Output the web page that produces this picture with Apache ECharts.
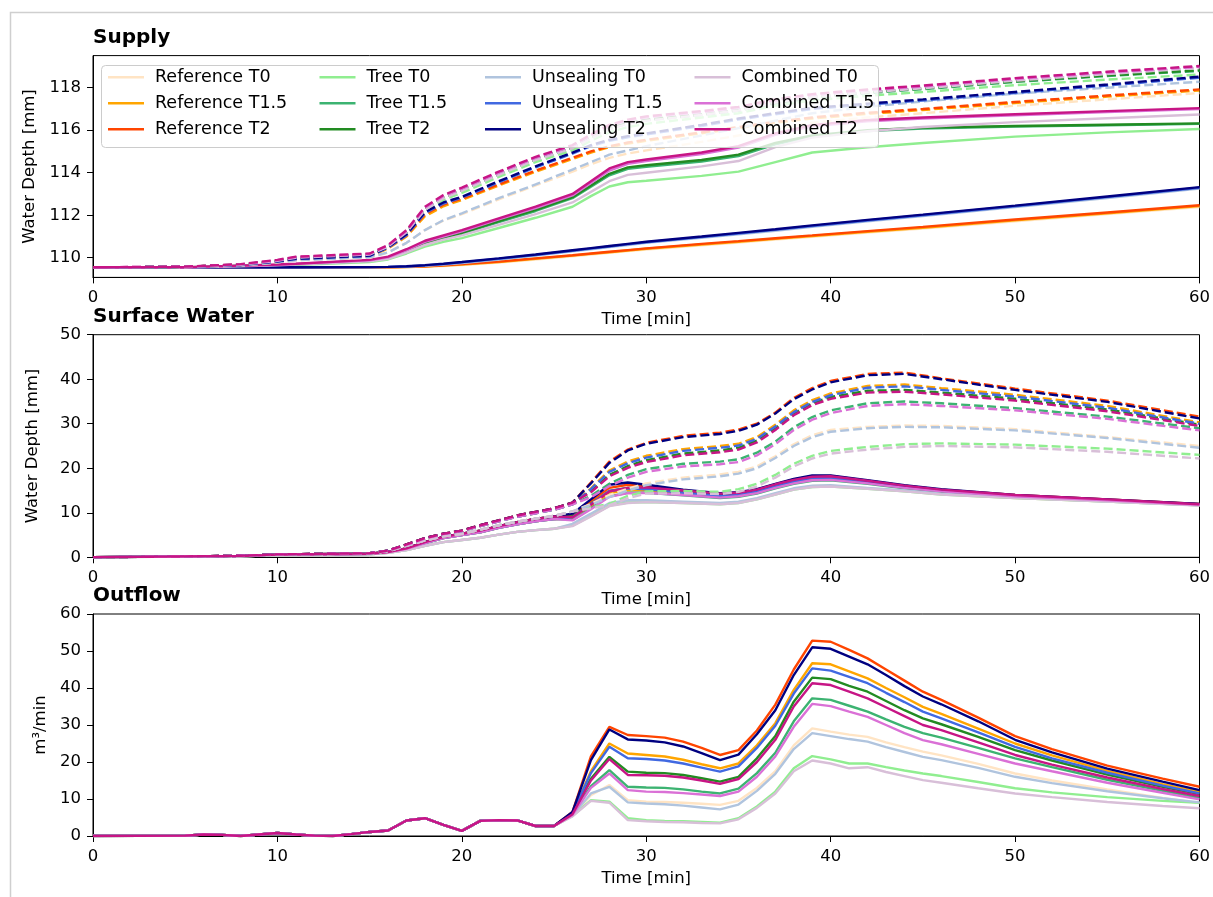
<!DOCTYPE html>
<html>
<head>
<meta charset="utf-8">
<script src="https://cdn.jsdelivr.net/npm/echarts@6/dist/echarts.min.js"></script>
<style>
html, body { margin: 0; padding: 0; background: #fff; }
#chart { width: 1213px; height: 897px; }
</style>
</head>
<body>
<div id="chart"></div>
<script>
// Scenario names and colours (same order in every panel)
const scenarioNames = ['Reference T0', 'Reference T1.5', 'Reference T2',
  'Tree T0', 'Tree T1.5', 'Tree T2',
  'Unsealing T0', 'Unsealing T1.5', 'Unsealing T2',
  'Combined T0', 'Combined T1.5', 'Combined T2'];
const scenarioColors = ['#ffe4c4', '#ffa500', '#ff4500',
  '#90ee90', '#3cb371', '#228b22',
  '#b0c4de', '#4169e1', '#000080',
  '#d8bfd8', '#da70d6', '#c71585'];

const panelTitles = ['Supply', 'Surface Water', 'Outflow'];
const yAxisNames = ['Water Depth [mm]', 'Water Depth [mm]', 'm³/min'];
const supplyTicks = [110, 112, 114, 116, 118];

// ---------- Supply [mm] ----------
const supplyTime = [0,5,6,8,10,11,15,16,17,18,19,20,22,24,26,27,28,29,30,33,35,37,39,42,45,50,55,60];

const supplyRefT0   = [109.55,109.55,109.55,109.55,109.55,109.55,109.55,109.55,109.56,109.58,109.61,109.66,109.77,109.92,110.07,110.15,110.23,110.31,110.39,110.59,110.72,110.85,110.98,111.18,111.37,111.72,112.05,112.39];
const supplyRefT15  = [109.55,109.55,109.55,109.55,109.55,109.55,109.55,109.55,109.56,109.59,109.63,109.68,109.8,109.95,110.1,110.18,110.26,110.34,110.42,110.62,110.75,110.89,111.02,111.22,111.41,111.76,112.09,112.43];
const supplyRefT2   = [109.55,109.55,109.55,109.55,109.55,109.55,109.55,109.55,109.57,109.6,109.65,109.7,109.82,109.97,110.12,110.2,110.28,110.36,110.44,110.65,110.78,110.92,111.05,111.25,111.45,111.8,112.13,112.47];
const supplyTreeT0  = [109.55,109.55,109.56,109.59,109.63,109.66,109.8,109.92,110.2,110.52,110.75,110.92,111.4,111.88,112.4,112.9,113.35,113.55,113.62,113.85,114.05,114.5,114.95,115.2,115.4,115.7,115.9,116.06];
const supplyTreeT15 = [109.55,109.55,109.57,109.61,109.65,109.69,109.85,109.98,110.3,110.67,110.92,111.13,111.68,112.2,112.8,113.34,113.88,114.18,114.28,114.52,114.78,115.34,115.7,115.96,116.08,116.17,116.23,116.3];
const supplyTreeT2  = [109.55,109.55,109.57,109.62,109.66,109.7,109.86,110.0,110.32,110.7,110.95,111.17,111.72,112.25,112.85,113.4,113.95,114.25,114.35,114.6,114.85,115.4,115.75,116.0,116.12,116.2,116.26,116.32];
const supplyUnsT0   = [109.55,109.55,109.55,109.55,109.55,109.55,109.55,109.56,109.58,109.62,109.68,109.75,109.92,110.1,110.3,110.4,110.5,110.6,110.7,110.94,111.1,111.27,111.45,111.71,111.96,112.38,112.81,113.25];
const supplyUnsT15  = [109.55,109.55,109.55,109.55,109.55,109.55,109.56,109.57,109.59,109.64,109.7,109.78,109.95,110.13,110.33,110.43,110.53,110.63,110.73,110.97,111.14,111.31,111.49,111.75,112.0,112.42,112.85,113.29];
const supplyUnsT2   = [109.55,109.55,109.55,109.55,109.55,109.55,109.56,109.57,109.6,109.65,109.72,109.8,109.97,110.15,110.35,110.45,110.55,110.65,110.75,111.0,111.17,111.34,111.52,111.78,112.03,112.45,112.88,113.32];
const supplyComT0   = [109.55,109.55,109.56,109.6,109.64,109.68,109.83,109.95,110.25,110.6,110.85,111.05,111.55,112.05,112.6,113.1,113.6,113.9,114.0,114.3,114.55,115.2,115.65,115.95,116.15,116.38,116.56,116.74];
const supplyComT15  = [109.55,109.55,109.57,109.62,109.67,109.71,109.88,110.02,110.36,110.75,111.0,111.24,111.8,112.34,112.93,113.52,114.1,114.42,114.55,114.88,115.18,115.78,116.18,116.42,116.55,116.7,116.85,116.99];
const supplyComT2   = [109.55,109.55,109.58,109.63,109.68,109.72,109.9,110.05,110.4,110.8,111.05,111.3,111.85,112.4,113.0,113.6,114.2,114.5,114.62,114.95,115.25,115.85,116.25,116.48,116.6,116.75,116.9,117.04];

const supplyRefT0Dash   = [109.55,109.56,109.58,109.63,109.78,109.88,110.0,110.25,110.7,111.3,111.75,112.05,112.75,113.4,114.05,114.4,114.7,114.9,115.05,115.45,115.75,116.05,116.35,116.6,116.8,117.15,117.45,117.75];
const supplyRefT15Dash  = [109.55,109.57,109.59,109.65,109.8,109.92,110.06,110.43,111.0,111.95,112.42,112.72,113.4,114.05,114.65,114.95,115.2,115.37,115.5,115.85,116.1,116.35,116.55,116.77,116.95,117.28,117.58,117.87];
const supplyRefT2Dash   = [109.55,109.57,109.6,109.66,109.82,109.94,110.08,110.47,111.05,112.05,112.5,112.78,113.45,114.1,114.7,115.0,115.25,115.42,115.55,115.9,116.15,116.4,116.6,116.82,117.0,117.33,117.63,117.92];
const supplyTreeT0Dash  = [109.55,109.57,109.6,109.67,109.84,109.97,110.12,110.5,111.15,112.2,112.72,113.05,113.8,114.5,115.05,115.5,115.9,116.15,116.3,116.6,116.8,117.15,117.4,117.62,117.8,118.12,118.38,118.62];
const supplyTreeT15Dash = [109.55,109.57,109.61,109.68,109.85,110.0,110.15,110.54,111.2,112.28,112.83,113.18,113.92,114.62,115.17,115.65,116.07,116.32,116.47,116.72,116.92,117.27,117.52,117.75,117.93,118.27,118.55,118.79];
const supplyTreeT2Dash  = [109.55,109.57,109.61,109.68,109.86,110.01,110.16,110.55,111.22,112.3,112.85,113.2,113.95,114.65,115.2,115.68,116.1,116.35,116.5,116.75,116.95,117.3,117.55,117.78,117.96,118.3,118.58,118.82];
const supplyUnsT0Dash   = [109.55,109.56,109.58,109.63,109.78,109.88,110.02,110.25,110.7,111.3,111.77,112.09,112.8,113.45,114.15,114.5,114.85,115.05,115.25,115.75,116.1,116.45,116.8,117.1,117.35,117.72,118.0,118.28];
const supplyUnsT15Dash  = [109.55,109.57,109.6,109.66,109.82,109.94,110.08,110.47,111.06,112.1,112.55,112.83,113.55,114.25,114.9,115.25,115.5,115.67,115.8,116.2,116.5,116.75,117.0,117.2,117.4,117.75,118.1,118.47];
const supplyUnsT2Dash   = [109.55,109.57,109.6,109.66,109.83,109.95,110.1,110.5,111.1,112.15,112.6,112.87,113.6,114.3,114.95,115.3,115.55,115.72,115.85,116.25,116.55,116.8,117.05,117.25,117.45,117.8,118.15,118.52];
const supplyComT0Dash   = [109.55,109.57,109.6,109.67,109.85,110.0,110.15,110.52,111.2,112.25,112.8,113.15,113.9,114.6,115.15,115.62,116.05,116.3,116.45,116.72,116.93,117.3,117.55,117.78,117.97,118.33,118.64,118.93];
const supplyComT15Dash  = [109.55,109.58,109.61,109.69,109.88,110.03,110.18,110.57,111.26,112.35,112.9,113.25,114.0,114.7,115.25,115.75,116.2,116.45,116.6,116.85,117.05,117.4,117.65,117.88,118.06,118.41,118.71,118.98];
const supplyComT2Dash   = [109.55,109.58,109.62,109.7,109.9,110.05,110.2,110.6,111.3,112.4,112.95,113.3,114.05,114.75,115.3,115.8,116.25,116.5,116.65,116.9,117.1,117.45,117.7,117.92,118.1,118.45,118.75,119.02];

// ---------- Surface water [mm] ----------
const surfaceTime = [0,5,8,10,12,15,16,17,18,19,20,21,22,23,24,25,26,27,28,29,30,32,34,35,36,37,38,39,40,42,44,46,50,55,60];

const surfaceRefT0   = [0,0.15,0.25,0.5,0.6,0.7,1.0,1.6,2.6,3.4,3.9,4.4,5.1,5.7,6.1,6.4,7.4,9.6,12.0,12.6,12.7,12.4,12.1,12.4,13.2,14.3,15.4,16.0,16.1,15.5,14.9,14.2,13.3,12.5,11.7];
const surfaceRefT15  = [0,0.2,0.3,0.6,0.7,0.8,1.2,1.9,3.2,4.3,5.0,5.6,6.6,7.4,8.1,8.6,8.8,11.5,14.4,15.1,15.0,14.3,13.6,13.8,14.6,15.8,16.8,17.6,17.7,16.8,15.8,14.9,13.8,12.8,11.9];
const surfaceRefT2   = [0,0.2,0.3,0.6,0.7,0.8,1.2,2.0,3.4,4.6,5.3,6.0,7.0,7.9,8.6,9.2,9.6,12.6,15.6,16.3,16.0,15.0,14.3,14.5,15.2,16.4,17.5,18.2,18.3,17.2,16.1,15.2,14.0,13.0,12.0];
const surfaceTreeT0  = [0,0.15,0.25,0.5,0.6,0.7,1.0,1.6,2.6,3.4,3.9,4.4,5.1,5.7,6.1,6.4,7.1,9.3,11.6,12.3,12.4,12.2,11.9,12.2,13.0,14.1,15.2,15.8,15.9,15.4,14.8,14.1,13.3,12.5,11.7];
const surfaceTreeT15 = [0,0.2,0.3,0.6,0.7,0.8,1.2,1.9,3.2,4.3,5.0,5.6,6.6,7.4,8.1,8.6,8.4,11.0,13.7,14.5,14.5,13.9,13.3,13.6,14.3,15.5,16.5,17.2,17.3,16.5,15.5,14.7,13.6,12.7,11.8];
const surfaceTreeT2  = [0,0.2,0.3,0.6,0.7,0.8,1.2,2.0,3.4,4.6,5.3,6.0,7.0,7.9,8.6,9.2,9.2,12.0,14.9,15.6,15.6,14.9,14.2,14.4,15.1,16.3,17.3,18.0,18.1,17.1,16.0,15.1,13.9,12.9,11.9];
const surfaceUnsT0   = [0,0.15,0.25,0.5,0.6,0.7,1.0,1.6,2.6,3.4,3.9,4.4,5.1,5.7,6.1,6.4,7.5,9.8,12.2,12.8,12.8,12.5,12.2,12.5,13.3,14.4,15.5,16.1,16.2,15.6,15.0,14.3,13.4,12.5,11.7];
const surfaceUnsT15  = [0,0.2,0.3,0.6,0.7,0.8,1.2,1.9,3.2,4.3,5.0,5.6,6.6,7.4,8.1,8.6,9.0,11.9,14.9,15.5,15.3,14.5,13.8,14.0,14.8,16.0,17.0,17.8,17.8,16.9,15.9,15.0,13.8,12.8,11.9];
const surfaceUnsT2   = [0,0.2,0.3,0.6,0.7,0.8,1.2,2.0,3.4,4.6,5.3,6.0,7.0,7.9,8.6,9.2,9.8,13.0,16.3,16.8,16.3,15.2,14.4,14.6,15.3,16.5,17.6,18.4,18.4,17.3,16.2,15.3,14.0,13.0,12.0];
const surfaceComT0   = [0,0.15,0.25,0.5,0.6,0.7,1.0,1.6,2.6,3.4,3.9,4.4,5.1,5.7,6.1,6.4,7.0,9.2,11.5,12.2,12.4,12.2,11.9,12.2,13.0,14.1,15.2,15.8,15.9,15.4,14.8,14.1,13.3,12.5,11.6];
const surfaceComT15  = [0,0.2,0.3,0.6,0.7,0.8,1.2,1.9,3.2,4.3,5.0,5.6,6.6,7.4,8.1,8.6,8.3,10.8,13.6,14.4,14.5,14.0,13.4,13.7,14.4,15.6,16.6,17.3,17.4,16.6,15.6,14.8,13.7,12.8,11.8];
const surfaceComT2   = [0,0.2,0.3,0.6,0.7,0.8,1.2,2.0,3.4,4.6,5.3,6.0,7.0,7.9,8.6,9.2,9.0,11.8,14.8,15.6,15.7,15.0,14.3,14.5,15.2,16.4,17.4,18.1,18.2,17.2,16.1,15.2,14.0,13.0,11.9];

const surfaceRefT0Dash   = [0,0.2,0.3,0.6,0.7,0.85,1.4,2.6,3.8,4.7,5.3,6.2,7.2,8.0,8.7,9.3,10.3,12.0,14.0,15.4,16.6,17.9,18.6,19.2,20.4,22.7,25.4,27.4,28.6,29.3,29.6,29.5,28.8,27.0,25.0];
const surfaceRefT15Dash  = [0,0.2,0.35,0.65,0.75,0.9,1.5,2.8,4.2,5.2,5.9,7.0,8.1,9.1,9.9,10.7,11.9,15.5,19.5,21.5,22.8,24.3,25.0,25.5,27.0,29.8,33.0,35.3,36.8,38.5,38.8,38.0,36.5,34.0,30.3];
const surfaceRefT2Dash   = [0,0.2,0.35,0.65,0.75,0.9,1.5,2.9,4.3,5.3,6.0,7.2,8.3,9.4,10.2,11.0,12.3,16.8,21.5,24.2,25.7,27.3,28.0,28.7,30.0,32.5,35.8,38.0,39.6,41.2,41.5,40.2,37.9,35.2,31.6];
const surfaceTreeT0Dash  = [0,0.2,0.3,0.6,0.7,0.85,1.4,2.6,3.8,4.7,5.3,6.2,7.2,8.0,8.7,9.3,10.3,11.2,12.0,13.8,14.8,14.9,14.7,15.3,16.5,18.5,21.0,22.8,23.9,24.8,25.4,25.6,25.3,24.4,23.0];
const surfaceTreeT15Dash = [0,0.2,0.35,0.65,0.75,0.9,1.5,2.8,4.2,5.2,5.9,7.0,8.1,9.1,9.9,10.7,11.9,13.8,16.5,18.5,19.8,21.0,21.5,22.0,23.5,26.0,29.2,31.5,33.0,34.6,35.0,34.6,33.5,31.6,29.0];
const surfaceTreeT2Dash  = [0,0.2,0.35,0.65,0.75,0.9,1.5,2.9,4.3,5.3,6.0,7.2,8.3,9.4,10.2,11.0,12.3,14.8,18.5,20.5,21.8,23.3,24.0,24.6,26.2,29.0,32.3,34.6,36.0,37.4,37.6,37.0,35.6,33.2,29.8];
const surfaceUnsT0Dash   = [0,0.2,0.3,0.6,0.7,0.85,1.4,2.6,3.8,4.7,5.3,6.2,7.2,8.0,8.7,9.3,10.3,11.8,13.5,15.0,16.2,17.5,18.2,18.8,20.0,22.3,25.0,27.0,28.2,29.0,29.3,29.2,28.5,26.8,24.6];
const surfaceUnsT15Dash  = [0,0.2,0.35,0.65,0.75,0.9,1.5,2.8,4.2,5.2,5.9,7.0,8.1,9.1,9.9,10.7,11.9,15.3,19.2,21.1,22.4,23.9,24.6,25.1,26.6,29.4,32.6,34.9,36.4,38.1,38.4,37.6,36.1,33.6,30.0];
const surfaceUnsT2Dash   = [0,0.2,0.35,0.65,0.75,0.9,1.5,2.9,4.3,5.3,6.0,7.2,8.3,9.4,10.2,11.0,12.3,16.6,21.2,24.0,25.5,27.0,27.7,28.4,29.8,32.3,35.5,37.7,39.3,40.9,41.2,40.0,37.6,34.9,31.2];
const surfaceComT0Dash   = [0,0.2,0.3,0.6,0.7,0.85,1.4,2.6,3.8,4.7,5.3,6.2,7.2,8.0,8.7,9.3,10.3,11.0,11.7,13.3,14.3,14.4,14.2,14.7,15.9,17.9,20.4,22.2,23.3,24.2,24.8,25.0,24.7,23.7,22.2];
const surfaceComT15Dash  = [0,0.2,0.35,0.65,0.75,0.9,1.5,2.8,4.2,5.2,5.9,7.0,8.1,9.1,9.9,10.7,11.9,13.5,16.0,17.9,19.2,20.4,20.9,21.4,22.9,25.4,28.6,30.9,32.4,34.0,34.4,34.0,33.0,31.1,28.5];
const surfaceComT2Dash   = [0,0.2,0.35,0.65,0.75,0.9,1.5,2.9,4.3,5.3,6.0,7.2,8.3,9.4,10.2,11.0,12.3,14.6,18.2,20.1,21.4,22.9,23.6,24.2,25.8,28.6,31.9,34.2,35.6,37.0,37.2,36.6,35.2,32.8,29.5];

// ---------- Outflow [m³/min] ----------
const outflowTime = [0,5,6,7,8,9,10,11,12,13,14,15,16,17,18,19,20,21,22,23,24,25,
  26,27,28,29,30,31,32,33,34,35,36,37,38,39,40,41,42,43,44,45,46,48,50,52,55,58,60];
// first minutes (0-25) are shared by all scenarios
const outflowCommon = [0,0.1,0.4,0.3,0,0.4,0.8,0.4,0.1,0,0.5,1.1,1.5,4.2,4.8,3.0,1.4,4.1,4.3,4.2,2.7,2.7];
// from minute 26 on
const outflowRefT0   = [5.5,11.0,13.8,9.7,9.3,9.2,9.0,8.7,8.4,9.5,13.0,17.5,24.5,29.1,28.2,27.4,26.8,25.3,24.0,22.8,21.8,19.5,16.9,15.0,12.6,10.3,8.9];
const outflowRefT15  = [6.2,17.5,25.0,22.3,21.9,21.5,20.6,19.4,18.3,19.6,24.5,30.5,39.5,46.7,46.4,44.5,42.6,40.0,37.5,34.9,33.0,29.0,25.0,21.8,17.6,14.0,11.9];
const outflowRefT2   = [6.5,21.5,29.5,27.3,27.0,26.6,25.5,23.8,21.9,23.2,28.5,35.5,45.0,52.8,52.5,50.3,48.0,45.0,42.0,39.0,36.8,32.0,27.0,23.5,19.0,15.5,13.3];
const outflowTreeT0  = [5.4,9.7,9.3,4.8,4.3,4.1,4.0,3.8,3.6,4.8,8.0,12.0,18.3,21.6,20.7,19.6,19.6,18.6,17.7,16.9,16.2,14.6,12.9,11.8,10.5,9.5,9.0];
const outflowTreeT15 = [5.8,13.5,17.8,13.3,13.1,13.0,12.6,12.0,11.5,12.8,17.0,22.5,31.0,37.2,36.8,35.2,33.6,31.5,29.5,27.8,26.6,23.8,21.0,18.6,15.2,12.2,10.3];
const outflowTreeT2  = [6.0,15.5,21.4,17.4,17.1,17.0,16.5,15.6,14.7,16.0,21.0,27.0,36.3,42.8,42.4,40.6,39.0,36.5,34.0,31.8,30.2,26.8,23.2,20.4,16.6,13.3,11.3];
const outflowUnsT0   = [5.5,11.5,13.3,9.1,8.8,8.6,8.2,7.7,7.2,8.5,12.2,16.8,23.5,27.8,27.0,26.2,25.5,24.0,22.7,21.4,20.5,18.4,16.0,14.3,12.1,10.2,9.1];
const outflowUnsT15  = [6.2,17.0,24.1,21.0,20.8,20.4,19.6,18.5,17.4,18.8,23.8,29.8,38.5,45.3,44.7,43.0,41.3,38.7,36.2,33.6,31.8,28.0,24.1,21.0,17.1,13.6,11.5];
const outflowUnsT2   = [6.5,20.5,28.8,26.1,25.8,25.3,24.2,22.4,20.5,22.0,27.5,34.0,43.5,51.0,50.6,48.5,46.4,43.5,40.5,37.7,35.6,31.0,26.0,22.6,18.2,14.7,12.4];
const outflowComT0   = [5.3,9.5,9.0,4.3,4.0,3.8,3.7,3.5,3.4,4.5,7.6,11.5,17.5,20.4,19.6,18.3,18.6,17.3,16.2,15.1,14.4,12.9,11.5,10.5,9.2,8.1,7.5];
const outflowComT15  = [5.7,13.0,16.9,12.4,12.0,11.9,11.6,11.2,10.8,12.0,16.0,21.5,29.5,35.7,35.1,33.6,32.2,30.0,27.8,25.9,24.8,22.2,19.6,17.5,14.4,11.7,9.9];
const outflowComT2   = [5.9,15.0,20.8,16.5,16.4,16.3,15.8,15.0,14.1,15.4,20.0,26.0,35.0,41.3,40.8,39.0,37.2,34.8,32.4,30.0,28.6,25.3,21.9,19.3,15.8,12.7,10.8];

// ---------- assembly ----------
const supplySolid = [supplyRefT0, supplyRefT15, supplyRefT2, supplyTreeT0, supplyTreeT15, supplyTreeT2,
  supplyUnsT0, supplyUnsT15, supplyUnsT2, supplyComT0, supplyComT15, supplyComT2];
const supplyDashed = [supplyRefT0Dash, supplyRefT15Dash, supplyRefT2Dash, supplyTreeT0Dash, supplyTreeT15Dash, supplyTreeT2Dash,
  supplyUnsT0Dash, supplyUnsT15Dash, supplyUnsT2Dash, supplyComT0Dash, supplyComT15Dash, supplyComT2Dash];
const surfaceSolid = [surfaceRefT0, surfaceRefT15, surfaceRefT2, surfaceTreeT0, surfaceTreeT15, surfaceTreeT2,
  surfaceUnsT0, surfaceUnsT15, surfaceUnsT2, surfaceComT0, surfaceComT15, surfaceComT2];
const surfaceDashed = [surfaceRefT0Dash, surfaceRefT15Dash, surfaceRefT2Dash, surfaceTreeT0Dash, surfaceTreeT15Dash, surfaceTreeT2Dash,
  surfaceUnsT0Dash, surfaceUnsT15Dash, surfaceUnsT2Dash, surfaceComT0Dash, surfaceComT15Dash, surfaceComT2Dash];
const outflowLate = [outflowRefT0, outflowRefT15, outflowRefT2, outflowTreeT0, outflowTreeT15, outflowTreeT2,
  outflowUnsT0, outflowUnsT15, outflowUnsT2, outflowComT0, outflowComT15, outflowComT2];

const FONT = 'DejaVu Sans';
const TXT = { fontFamily: FONT, fontSize: 16.5, color: '#000' };
const LEFT = 93, PLOT_W = 1108.5;
const panelTop = [55.6, 334.7, 614];
const panelH = [221.8, 222.6, 222];
const yRange = [[109.075, 119.51], [0, 50], [0, 60]];

function lineSeries(name, color, times, values, axis, dashed) {
  return {
    type: 'line', name: name, xAxisIndex: axis, yAxisIndex: axis,
    data: times.map((t, i) => [t, values[i]]),
    showSymbol: false, symbol: 'none', silent: true, animation: false,
    lineStyle: { color: color, width: 2.4, type: dashed ? [9, 4] : 'solid', cap: 'butt' },
    itemStyle: { color: color }
  };
}

const series = [];
scenarioNames.forEach((n, i) => series.push(lineSeries(n, scenarioColors[i], supplyTime, supplySolid[i], 0, false)));
scenarioNames.forEach((n, i) => series.push(lineSeries(n, scenarioColors[i], supplyTime, supplyDashed[i], 0, true)));
scenarioNames.forEach((n, i) => series.push(lineSeries(n, scenarioColors[i], surfaceTime, surfaceSolid[i], 1, false)));
scenarioNames.forEach((n, i) => series.push(lineSeries(n, scenarioColors[i], surfaceTime, surfaceDashed[i], 1, true)));
scenarioNames.forEach((n, i) => {
  const vals = outflowTime.map((t, k) => k < outflowCommon.length ? outflowCommon[k] : outflowLate[i][k - outflowCommon.length]);
  series.push(lineSeries(n, scenarioColors[i], outflowTime, vals, 2, false));
});

const grids = panelTop.map((top, i) => ({
  left: LEFT, top: top, width: PLOT_W, height: panelH[i],
  show: true, borderColor: '#000', borderWidth: 1, backgroundColor: 'transparent'
}));

const xAxes = panelTop.map((_, i) => ({
  type: 'value', gridIndex: i, min: 0, max: 60, interval: 10,
  name: 'Time [min]', nameLocation: 'middle', nameGap: 34, nameTextStyle: TXT,
  axisLine: { onZero: false, lineStyle: { color: '#000', width: 1 } },
  axisTick: { length: 6, lineStyle: { color: '#000' } },
  axisLabel: Object.assign({ margin: 12 }, TXT),
  splitLine: { show: false }
}));

const yAxes = panelTop.map((_, i) => {
  const ax = {
    type: 'value', gridIndex: i, min: yRange[i][0], max: yRange[i][1],
    name: yAxisNames[i], nameLocation: 'middle', nameGap: i === 2 ? 34 : 52, nameTextStyle: TXT,
    axisLine: { onZero: false, lineStyle: { color: '#000', width: 1 } },
    axisTick: { length: 6, lineStyle: { color: '#000' } },
    axisLabel: Object.assign({ margin: 12 }, TXT),
    splitLine: { show: false }
  };
  if (i === 0) {
    ax.axisTick.customValues = supplyTicks;
    ax.axisLabel.customValues = supplyTicks;
  } else {
    ax.interval = 10;
  }
  return ax;
});

const titleCenters = [38, 317, 596];
const titles = panelTitles.map((t, i) => ({
  text: t, left: LEFT, top: titleCenters[i] - 12, padding: 0,
  textStyle: { fontFamily: FONT, fontSize: 20, fontWeight: 'bold', color: '#000', lineHeight: 24 }
}));

const legendCols = [[0, 1, 2], [3, 4, 5], [6, 7, 8], [9, 10, 11]];
const legendLeft = [108, 319.5, 485, 694.5];
const legends = legendCols.map((idx, c) => ({
  data: idx.map(i => scenarioNames[i]),
  orient: 'vertical', left: legendLeft[c], top: 67.3, padding: 0,
  itemGap: 6, itemWidth: 36, itemHeight: 2.5, icon: 'rect', selectedMode: false, z: 20,
  textStyle: { fontFamily: FONT, fontSize: 17.5, color: '#000', lineHeight: 20, padding: [0, 0, 0, 6] }
}));

const chart = echarts.init(document.getElementById('chart'), null, { renderer: 'canvas' });
chart.setOption({
  animation: false,
  backgroundColor: '#fff',
  title: titles,
  grid: grids,
  xAxis: xAxes,
  yAxis: yAxes,
  legend: legends,
  graphic: [
    { type: 'polyline', shape: { points: [[10.5, 897], [10.5, 12.5], [1213, 12.5]] },
      style: { stroke: '#cfcfcf', lineWidth: 1.5, fill: null }, z: 1, silent: true },
    { type: 'rect', shape: { x: 101.5, y: 65.5, width: 777, height: 82, r: 4 },
      style: { fill: 'rgba(255,255,255,0.8)', stroke: '#cccccc', lineWidth: 1 }, z: 15, silent: true }
  ],
  series: series
});
</script>
</body>
</html>
